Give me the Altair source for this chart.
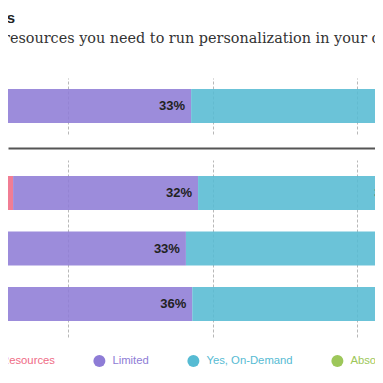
import altair as alt
import pandas as pd

# Data
rows = ["All Respondents", "B2C", "B2B", "B2B & B2C"]
categories = ["No Resources", "Limited", "Yes, On-Demand", "Absolutely"]
no_resources = [13.3, 15.5, 12.4, 10.5]
limited = [33.0, 32.0, 33.0, 36.0]
on_demand = [41.0, 36.0, 42.0, 41.0]
absolutely = [12.7, 16.5, 12.6, 12.5]
colors = ["#EF6B85", "#8E7CD6", "#56BBD3", "#9DC75A"]
grid_values = [25, 50, 75]

title_text = "Resources"
subtitle_text = "resources you need to run personalization in your organization?"

series = [no_resources, limited, on_demand, absolutely]
records = []
for i, r in enumerate(rows):
    for j, c in enumerate(categories):
        records.append({"row": r, "category": c, "order": j, "value": series[j][i]})
df = pd.DataFrame(records)

W = 367
x_domain = [14.62, 78.11]

color = alt.Color(
    "category:N",
    scale=alt.Scale(domain=categories, range=colors),
    sort=categories,
    legend=alt.Legend(
        orient="none", legendX=-43.6, legendY=277, direction="horizontal",
        title=None, symbolType="circle", symbolSize=144, symbolOpacity=1,
        symbolStrokeWidth=0, labelFont="Liberation Sans", labelFontSize=11.3,
        labelOffset=7, columnPadding=38, padding=0, labelLimit=0,
        labelColor=alt.ExprRef("scale('color', datum.value)"),
    ),
)


def panel(rows_subset, height, with_sep):
    base = (
        alt.Chart(df)
        .transform_filter(alt.FieldOneOfPredicate(field="row", oneOf=rows_subset))
        .transform_stack(stack="value", groupby=["row"], sort=[alt.SortField("order")], as_=["x0", "x1"])
        .transform_calculate(label="format(datum.value, '.0f') + '%'")
    )
    axis_kw = dict(grid=True, gridDash=[3, 2], gridColor="#b8b8b8", labels=False,
                   ticks=False, title=None, domain=with_sep, values=grid_values)
    if with_sep:
        axis_kw.update(domainColor="#555555", domainWidth=2, offset=14)
    y = alt.Y("row:N", sort=rows_subset, axis=None,
              scale=alt.Scale(paddingInner=0, paddingOuter=0.095))
    bars = base.mark_bar(size=34, opacity=0.88, clip=True).encode(
        x=alt.X("x0:Q", scale=alt.Scale(domain=x_domain, nice=False, zero=False), axis=alt.Axis(**axis_kw)),
        x2="x1:Q",
        y=y,
        color=color,
    )
    labels = base.mark_text(align="right", dx=-6, font="Liberation Sans", fontSize=13,
                            fontWeight="bold", color="#222222", clip=True).encode(
        x="x1:Q", y=y, text="label:N")
    return [bars, labels]


top_layers = panel(rows[:1], 56, True)
title_layer = alt.Chart(pd.DataFrame({"t": [title_text]})).mark_text(
    align="right", baseline="alphabetic", font="Liberation Sans", fontSize=15,
    fontWeight="bold", color="#222222").encode(text="t:N", x=alt.value(7), y=alt.value(-55))
subtitle_layer = alt.Chart(pd.DataFrame({"t": [subtitle_text]})).mark_text(
    align="left", baseline="alphabetic", font="DejaVu Serif", fontSize=14.4,
    color="#333333").encode(text="t:N", x=alt.value(-5), y=alt.value(-35))
top = alt.layer(*top_layers, title_layer, subtitle_layer).properties(width=W, height=56)

bottom_layers = panel(rows[1:], 177, False)
bottom = alt.layer(*bottom_layers).properties(width=W, height=177)

chart = (
    alt.vconcat(top, bottom, spacing=26, bounds="flush")
    .configure_view(stroke=None)
    .properties(
        autosize=alt.AutoSizeParams(type="none"),
        padding={"left": 0, "top": 70, "right": 0, "bottom": 289},
    )
)

chart.save("out.html", embed_options={"renderer": "svg", "actions": False})
